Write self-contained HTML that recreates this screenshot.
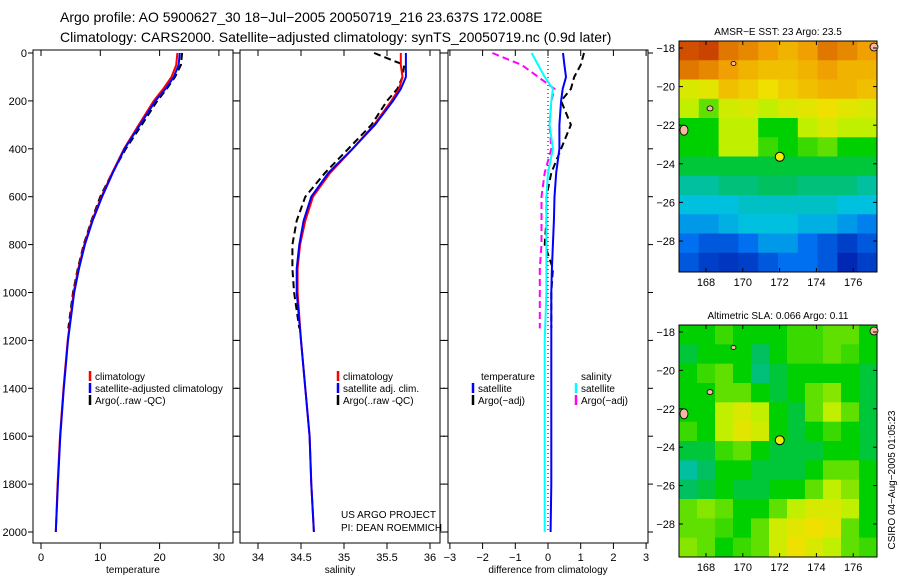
<!DOCTYPE html>
<html><head><meta charset="utf-8"><style>
body{margin:0;background:#fff;}
svg{display:block;font-family:"Liberation Sans",sans-serif;}
</style></head><body>
<svg id="fig" width="900" height="580" viewBox="0 0 900 580">
<text x="60" y="22" font-size="14">Argo profile: AO 5900627_30 18−Jul−2005 20050719_216 23.637S 172.008E</text>
<text x="60" y="42" font-size="14">Climatology: CARS2000. Satellite−adjusted climatology: synTS_20050719.nc (0.9d later)</text>
<g id="g"></g>
</svg>
<script>
// ---- data ----
const depths = [0,50,100,150,200,300,400,500,600,700,800,900,1000,1200,1400,1600,1800,2000];
const tempClim = [23,22.8,22,20.6,19,16.5,14,12,10.2,8.6,7.3,6.3,5.5,4.5,3.8,3.2,2.8,2.5];
const tempSat  = [23.4,23.2,22.4,21,19.3,16.7,14.1,12.1,10.3,8.7,7.4,6.4,5.6,4.55,3.85,3.25,2.85,2.5];
const argoDepths = [0,50,100,150,200,300,400,500,600,700,800,900,1000,1150];
const tempArgo = [23.8,23.6,22.6,21.2,19.6,17,14.3,12,10,8.5,7.2,6.2,5.4,4.6];
const salClim = [35.66,35.66,35.68,35.64,35.55,35.35,35.1,34.84,34.64,34.55,34.49,34.46,34.46,34.5,34.55,34.6,34.62,34.65];
const salSat  = [35.72,35.72,35.72,35.66,35.57,35.36,35.1,34.82,34.62,34.53,34.48,34.45,34.45,34.5,34.55,34.6,34.62,34.65];
const salArgo = [35.35,35.7,35.68,35.62,35.5,35.32,35.05,34.78,34.55,34.45,34.4,34.4,34.42,34.48];
const dTempSat = [0.46,0.5,0.55,0.45,0.4,0.35,0.35,0.25,0.2,0.18,0.15,0.12,0.1,0.1,0.1,0.1,0.1,0.08];
const dSalSat  = [-0.5,-0.3,-0.1,0.15,0.1,0.05,0.15,0.0,-0.05,-0.05,-0.05,-0.05,-0.05,-0.1,-0.1,-0.1,-0.1,-0.1];
const dTempArgo= [1.1,1.0,0.8,0.7,0.4,0.7,0.4,0.1,-0.05,-0.05,-0.1,0.15,0.1,0.1];
const dSalArgo = [-1.7,-0.8,-0.3,0.2,0.1,0.05,0.1,-0.1,-0.2,-0.2,-0.2,-0.25,-0.25,-0.25];
const depthTicks = [0,200,400,600,800,1000,1200,1400,1600,1800,2000];
const tempTicks = [0,10,20,30];
const salTicks = [34,34.5,35,35.5,36];
const salTickLabels = ["34","34.5","35","35.5","36"];
const diffTicks = [-3,-2,-1,0,1,2,3];
const latTicks = [-18,-20,-22,-24,-26,-28];
const lonTicks = [168,170,172,174,176];
const sstGrid = [
[.85,.88,.8,.78,.75,.72,.75,.8,.78,.75],
[.8,.78,.75,.72,.7,.7,.72,.75,.72,.72],
[.6,.62,.7,.68,.65,.68,.7,.72,.72,.7],
[.55,.5,.58,.6,.55,.6,.62,.65,.62,.6],
[.45,.45,.55,.55,.45,.45,.55,.6,.55,.55],
[.45,.45,.55,.55,.48,.45,.48,.5,.45,.45],
[.42,.42,.42,.42,.42,.42,.42,.42,.42,.42],
[.35,.35,.38,.38,.4,.4,.38,.38,.38,.35],
[.3,.3,.3,.32,.32,.32,.32,.32,.3,.3],
[.25,.25,.28,.3,.3,.3,.28,.28,.25,.22],
[.2,.15,.15,.2,.25,.25,.2,.15,.1,.15],
[.15,.1,.08,.1,.15,.2,.2,.15,.05,.1]];
const slaGrid = [
[.45,.45,.48,.45,.45,.45,.48,.48,.5,.5,.45],
[.42,.45,.45,.45,.4,.45,.48,.48,.5,.48,.45],
[.45,.48,.5,.45,.38,.42,.45,.45,.45,.45,.42],
[.45,.45,.5,.5,.45,.42,.45,.5,.52,.45,.42],
[.45,.45,.55,.6,.55,.45,.42,.5,.55,.5,.42],
[.48,.45,.55,.62,.58,.45,.42,.45,.48,.45,.42],
[.42,.42,.48,.5,.45,.42,.42,.42,.45,.45,.42],
[.35,.4,.45,.45,.42,.42,.42,.45,.5,.5,.45],
[.4,.42,.45,.42,.42,.45,.45,.5,.55,.52,.45],
[.5,.52,.5,.45,.45,.5,.55,.6,.6,.55,.45],
[.5,.5,.48,.45,.5,.58,.62,.65,.62,.5,.45],
[.52,.5,.45,.48,.5,.58,.65,.6,.55,.5,.48]];

const NS="http://www.w3.org/2000/svg";
const G=document.getElementById('g');
function mk(tag,attrs,parent){const e=document.createElementNS(NS,tag);for(const k in attrs)e.setAttribute(k,attrs[k]);(parent||G).appendChild(e);return e;}
const yD = d => 53 + d*0.2395;
const xT = v => 41 + v*5.93;
const xS = v => 258 + (v-34)*86;
const xF = v => 548 + v*32.7;
const panels=[{x:33,w:200,sc:xT,ticks:tempTicks,labels:tempTicks.map(String),label:"temperature",n:"temperature"},
{x:240,w:200,sc:xS,ticks:salTicks,labels:salTickLabels,label:"salinity",n:"salinity"},
{x:448,w:200,sc:xF,ticks:diffTicks,labels:diffTicks.map(v=>v<0?"−"+(-v):String(v)),label:"difference from climatology",n:"difference"}];
panels.forEach((p,i)=>{
  const r=mk('rect',{x:p.x,y:50,width:p.w,height:493,fill:'none',stroke:'#000','stroke-width':1});
  
  
  p.ticks.forEach((t,j)=>{
    const x=p.sc(t);
    mk('line',{x1:x,y1:543,x2:x,y2:549,stroke:'#000'});
    mk('line',{x1:x,y1:50,x2:x,y2:56,stroke:'#000'});
    const tx=mk('text',{x:x,y:561,'font-size':11,'text-anchor':'middle'});tx.textContent=p.labels[j];
    
    
  });
  depthTicks.forEach(d=>{
    const y=yD(d);
    mk('line',{x1:p.x-5,y1:y,x2:p.x,y2:y,stroke:'#000'});
    mk('line',{x1:p.x+p.w,y1:y,x2:p.x+p.w+5,y2:y,stroke:'#000'});
    if(i===0){const tx=mk('text',{x:27,y:y+4,'font-size':11,'text-anchor':'end'});tx.textContent=d;
      
      }
  });
  const lab=mk('text',{x:p.x+p.w/2,y:573,'font-size':10,'text-anchor':'middle'});lab.textContent=p.label;
  
  
});
function line(xs,ds,sc,color,dash,w,name){
  const pts=xs.map((v,i)=>sc(v).toFixed(1)+','+yD(ds[i]).toFixed(1)).join(' ');
  const a={points:pts,fill:'none',stroke:color,'stroke-width':w};
  if(dash)a['stroke-dasharray']=dash;
  const e=mk('polyline',a);
  
  
}
line(tempArgo,argoDepths,xT,'#000','7,4',2,'temp-argo-line');
line(tempClim,depths,xT,'#f00',null,2,'temp-clim-line');
line(tempSat,depths,xT,'#00f',null,2,'temp-sat-line');
line(salArgo,argoDepths,xS,'#000','7,4',2,'sal-argo-line');
line(salClim,depths,xS,'#f00',null,2,'sal-clim-line');
line(salSat,depths,xS,'#00f',null,2,'sal-sat-line');
mk('line',{x1:xF(0),y1:53,x2:xF(0),y2:yD(2000),stroke:'#000','stroke-dasharray':'1,3'});
line(dTempArgo,argoDepths,xF,'#000','7,4',2,'diff-temp-argo-line');
line(dSalArgo,argoDepths,xF,'#f0f','7,4',2,'diff-sal-argo-line');
line(dTempSat,depths,xF,'#00f',null,2,'diff-temp-sat-line');
line(dSalSat,depths,xF,'#0ff',null,2,'diff-sal-sat-line');
function legend(x,y,items,name){
  items.forEach((it,i)=>{
    const yy=y+i*12;
    if(it[0])mk('line',{x1:x,y1:yy-9,x2:x,y2:yy+1,stroke:it[0],'stroke-width':2.5});
    const t=mk('text',{x:x+(it[0]?5:0),y:yy,'font-size':10});t.textContent=it[1];
    
    
  });
}
legend(90,380,[['#f00','climatology'],['#00f','satellite-adjusted climatology'],['#000','Argo(..raw -QC)']],'temp-legend');
legend(338,380,[['#f00','climatology'],['#00f','satellite adj. clim.'],['#000','Argo(..raw -QC)']],'sal-legend');
legend(481,380,[[null,'temperature']],'diff-legend');
legend(473,392,[['#00f','satellite'],['#000','Argo(−adj)']],'diff-legend');
legend(581,380,[[null,'salinity']],'diff-legend');
legend(576,392,[['#0ff','satellite'],['#f0f','Argo(−adj)']],'diff-legend');
[['US ARGO PROJECT',518],['PI: DEAN ROEMMICH',531]].forEach(s=>{const t=mk('text',{x:341,y:s[1],'font-size':10});t.textContent=s[0];
  
  });
// colormap
const stops=[[0,[0,16,160]],[.2,[0,112,240]],[.3,[0,192,224]],[.4,[0,192,96]],[.45,[0,208,0]],[.55,[192,240,0]],[.65,[240,224,0]],[.75,[240,160,0]],[.85,[208,80,0]],[1,[176,16,0]]];
function cmap(v){for(let i=1;i<stops.length;i++){if(v<=stops[i][0]){const a=stops[i-1],b=stops[i],f=(v-a[0])/(b[0]-a[0]);return 'rgb('+a[1].map((c,k)=>Math.round(c+(b[1][k]-c)*f)).join(',')+')';}}return 'rgb(176,16,0)';}
function map(grid,y0,y1,lat18y,lat28y,title,name){
  const x0=679,x1=877;
  const rows=grid.length,cols=grid[0].length;
  grid.forEach((row,r)=>row.forEach((v,c)=>{
    const e=mk('rect',{x:x0+c*(x1-x0)/cols,y:y0+r*(y1-y0)/rows,width:(x1-x0)/cols+0.5,height:(y1-y0)/rows+0.5,fill:cmap(v)});
    
    
  }));
  const lonX=l=>706+(l-168)*18.4, latY=l=>lat18y+(-18-l)*(lat28y-lat18y)/10;
  mk('rect',{x:x0,y:y0,width:x1-x0,height:y1-y0,fill:'none',stroke:'#000'});
  [[870,y0+2,8,8],[680,latY(-22),8,10],[707,latY(-21),6,5],[731,latY(-18.7),5,4]].forEach(l=>mk('ellipse',{cx:l[0]+l[2]/2,cy:l[1]+l[3]/2,rx:l[2]/2,ry:l[3]/2,fill:'#f4b8a0',stroke:'#000','stroke-width':.8}));
  const pc=mk('circle',{cx:lonX(172.008),cy:latY(-23.637),r:4.5,fill:'#ee0',stroke:'#000','stroke-width':1});
  
  
  latTicks.forEach(l=>{const y=latY(l);mk('line',{x1:x0,y1:y,x2:x0+4,y2:y,stroke:'#000'});mk('line',{x1:x1-4,y1:y,x2:x1,y2:y,stroke:'#000'});
    const t=mk('text',{x:675,y:y+4,'font-size':11,'text-anchor':'end'});t.textContent=l<0?'−'+(-l):l;
    
    });
  lonTicks.forEach(l=>{const x=lonX(l);mk('line',{x1:x,y1:y1,x2:x,y2:y1-4,stroke:'#000'});mk('line',{x1:x,y1:y0,x2:x,y2:y0+4,stroke:'#000'});
    const t=mk('text',{x:x,y:y1+14,'font-size':11,'text-anchor':'middle'});t.textContent=l;
    
    });
  const t=mk('text',{x:778,y:y0-6,'font-size':10,'text-anchor':'middle'});t.textContent=title;
  
  
}
map(sstGrid,41,272,48,241,'AMSR−E SST: 23 Argo: 23.5','sst-map');
map(slaGrid,325,557,332,524,'Altimetric SLA: 0.066 Argo: 0.11','sla-map');
const ct=mk('text',{x:0,y:0,'font-size':10,'text-anchor':'middle',transform:'translate(895,480) rotate(-90)'});ct.textContent='CSIRO 04−Aug−2005 01:05:23';


</script>
</body></html>
